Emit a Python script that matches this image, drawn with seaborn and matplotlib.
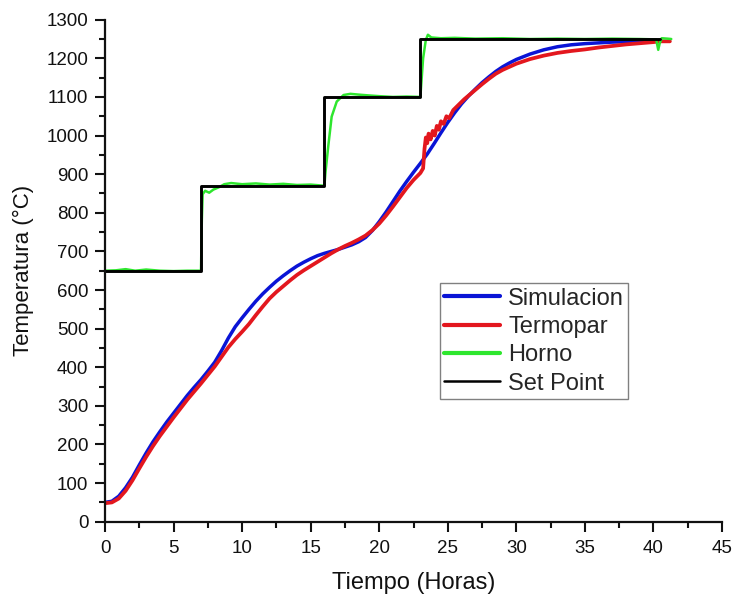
import matplotlib
matplotlib.use("Agg")
import matplotlib.pyplot as plt
import seaborn as sns
import pandas as pd
from matplotlib.ticker import MultipleLocator

# ---------------- data ----------------
sim_t = [0, 0.5, 1.0, 1.5, 2.0, 2.5, 3.0, 3.5, 4.0, 4.5, 5.0, 5.5, 6.0, 6.5, 7.0,
         7.5, 8.0, 8.5, 9.0, 9.5, 10.0, 10.5, 11.0, 11.5, 12.0, 12.5, 13.0, 13.5,
         14.0, 14.5, 15.0, 15.5, 16.0, 16.5, 17.0, 17.5, 18.0, 18.5, 19.0, 19.5,
         20.0, 20.5, 21.0, 21.5, 22.0, 22.5, 23.0, 23.5, 24.0, 24.5, 25.0, 25.5,
         26.0, 26.5, 27.0, 27.5, 28.0, 28.5, 29.0, 29.5, 30.0, 31.0, 32.0, 33.0,
         34.0, 35.0, 36.0, 37.0, 38.0, 39.0, 40.0, 40.5]
sim_T = [50, 53, 66, 88, 115, 147, 178, 207, 233, 258, 281, 304, 327, 348, 368,
         390, 413, 443, 476, 505, 528, 550, 571, 590, 607, 623, 637, 650,
         662, 672, 681, 689, 695, 700, 705, 711, 717, 725, 736, 754,
         777, 802, 829, 856, 881, 905, 928, 952, 979, 1007, 1034, 1059,
         1082, 1102, 1120, 1137, 1152, 1166, 1178, 1188, 1197, 1211, 1222, 1230,
         1235, 1238, 1240, 1242, 1243, 1244, 1245, 1245]

term_t = [0, 0.5, 1.0, 1.5, 2.0, 2.5, 3.0, 3.5, 4.0, 4.5, 5.0, 5.5, 6.0, 6.5, 7.0,
          7.5, 8.0, 8.5, 9.0, 9.5, 10.0, 10.5, 11.0, 11.5, 12.0, 12.5, 13.0, 13.5,
          14.0, 14.5, 15.0, 15.5, 16.0, 16.5, 17.0, 17.5, 18.0, 18.5, 19.0, 19.5,
          20.0, 20.5, 21.0, 21.5, 22.0, 22.5, 23.0, 23.2, 23.3, 23.4, 23.5, 23.6,
          23.75, 23.9, 24.05, 24.2, 24.35, 24.5, 24.7, 24.9, 25.1, 25.4, 25.8,
          26.2, 26.6, 27.0, 27.5, 28.0, 28.5, 29.0, 29.5, 30.0, 31.0, 32.0, 33.0,
          34.0, 35.0, 36.0, 37.0, 38.0, 39.0, 40.0, 40.5, 41.2]
term_T = [48, 50, 60, 80, 107, 138, 168, 196, 222, 246, 270, 293, 316, 337, 358,
          380, 402, 427, 452, 473, 492, 512, 535, 557, 578, 595, 610, 625,
          639, 651, 662, 673, 684, 695, 705, 714, 722, 731, 741, 755,
          772, 793, 816, 840, 864, 885, 903, 915, 965, 995, 980, 1005,
          990, 1012, 1000, 1025, 1015, 1037, 1030, 1050, 1045, 1066, 1080,
          1094, 1106, 1118, 1133, 1147, 1160, 1170, 1178, 1186, 1198, 1207, 1214,
          1219, 1223, 1228, 1232, 1236, 1239, 1242, 1244, 1244]

horno_t = [0, 0.8, 1.5, 2.2, 3.0, 4.0, 5.0, 6.0, 7.0, 7.06, 7.12, 7.3, 7.6, 7.9,
           8.3, 8.7, 9.2, 10.0, 11.0, 12.0, 13.0, 14.0, 15.0, 16.0, 16.08, 16.29,
           16.53, 16.9, 17.4, 17.9, 18.5, 19.2, 20.0, 21.0, 22.0, 23.0, 23.08,
           23.2, 23.4, 23.55, 23.8, 24.5, 25.5, 27.0, 29.0, 31.0, 33.0, 35.0,
           37.0, 39.0, 40.2, 40.35, 40.45, 40.6, 41.0, 41.3]
horno_T = [650, 651, 654, 650, 653, 650, 649, 650, 650, 780, 848, 857, 852, 860,
           866, 874, 877, 874, 876, 873, 875, 872, 873, 870, 905, 975,
           1049, 1088, 1105, 1108, 1106, 1104, 1102, 1100, 1101, 1100, 1140,
           1200, 1248, 1261, 1254, 1252, 1253, 1251, 1252, 1250, 1251, 1250,
           1251, 1250, 1249, 1222, 1238, 1252, 1251, 1250]

sp_t = [0, 7, 16, 23, 40.5]
sp_T = [650, 870, 1100, 1250, 1250]

x_ticks = [0, 5, 10, 15, 20, 25, 30, 35, 40, 45]
y_ticks = list(range(0, 1301, 100))

labels = ["Simulacion", "Termopar", "Horno", "Set Point"]
colors = ["#0a14d6", "#e3171e", "#2ee62e", "#000000"]

# ---------------- figure ----------------
sns.set_style("ticks")
plt.rcParams["font.family"] = ["Liberation Sans", "DejaVu Sans"]

fig = plt.figure(figsize=(7.35, 5.97), dpi=100)
ax = fig.add_axes([0.1429, 0.1261, 0.9823 - 0.1429, 0.967 - 0.1261])

df_sim = pd.DataFrame({"t": sim_t, "T": sim_T})
df_term = pd.DataFrame({"t": term_t, "T": term_T})
df_horno = pd.DataFrame({"t": horno_t, "T": horno_T})
df_sp = pd.DataFrame({"t": sp_t, "T": sp_T})

sns.lineplot(data=df_sim, x="t", y="T", ax=ax, color=colors[0], lw=2.5,
             estimator=None, sort=False, label=labels[0])
sns.lineplot(data=df_term, x="t", y="T", ax=ax, color=colors[1], lw=2.7,
             estimator=None, sort=False, label=labels[1])
sns.lineplot(data=df_horno, x="t", y="T", ax=ax, color=colors[2], lw=1.8,
             estimator=None, sort=False, label=labels[2])
sns.lineplot(data=df_sp, x="t", y="T", ax=ax, color=colors[3], lw=2.1,
             estimator=None, sort=False, label=labels[3], drawstyle="steps-post")

ax.set_xlim(0, 45)
ax.set_ylim(0, 1300)
ax.set_xticks(x_ticks)
ax.set_yticks(y_ticks)
ax.xaxis.set_minor_locator(MultipleLocator(2.5))
ax.yaxis.set_minor_locator(MultipleLocator(50))

for s in ["top", "right"]:
    ax.spines[s].set_visible(False)
for s in ["left", "bottom"]:
    ax.spines[s].set_linewidth(1.6)
    ax.spines[s].set_color("#111111")

ax.tick_params(which="major", direction="out", length=7, width=1.5,
               labelsize=13.5, colors="#111111", pad=5)
ax.tick_params(axis="x", which="major", pad=6)
ax.tick_params(which="minor", direction="out", length=4, width=1.5, colors="#111111")

ax.set_xlabel("Tiempo (Horas)", fontsize=17, labelpad=11, color="#111111")
ax.set_ylabel("Temperatura (°C)", fontsize=16, labelpad=9, color="#111111")

leg = ax.legend(loc="upper left", bbox_to_anchor=(0.543, 0.475), fontsize=17,
                frameon=True, fancybox=False, shadow=False, handlelength=2.35,
                handletextpad=0.35, borderpad=0.18, labelspacing=0.27,
                borderaxespad=0.0)
leg.get_frame().set_edgecolor("#808080")
leg.get_frame().set_linewidth(1.0)
leg.get_frame().set_alpha(1.0)
for line, lw in zip(leg.get_lines(), [3.0, 3.0, 3.0, 1.8]):
    line.set_linewidth(lw)

fig.savefig("out.png", dpi=100)
